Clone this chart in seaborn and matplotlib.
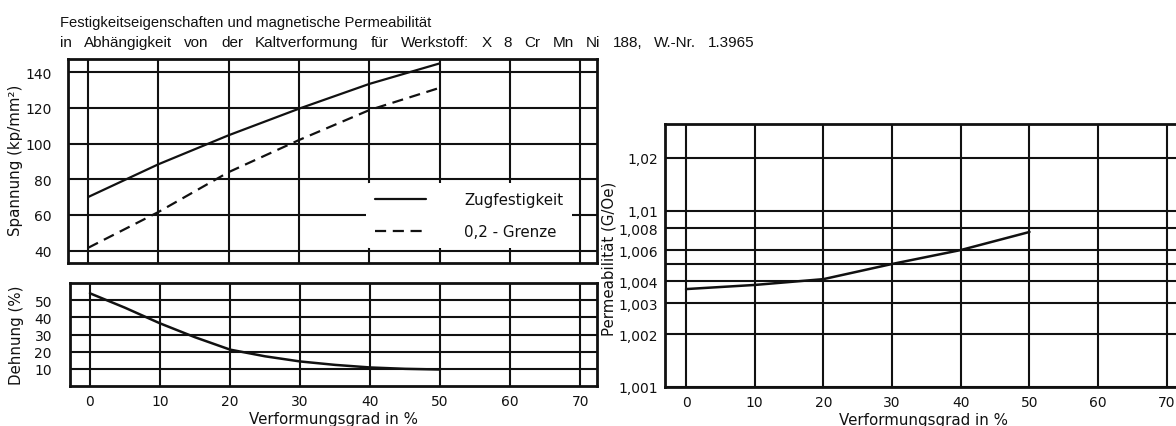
import numpy as np
import pandas as pd
import matplotlib
matplotlib.use("Agg")
import matplotlib.pyplot as plt
import seaborn as sns

# ---------------- data ----------------
verformung = [0, 10, 20, 30, 40, 50]
zugfestigkeit = [70, 88.4, 104.7, 119.6, 133.5, 145]
grenze_02 = [41.5, 61.6, 84, 102, 118.8, 131.3]

verformung_d = [0, 5, 10, 15, 20, 25, 30, 35, 40, 45, 50]
dehnung = [54, 45.6, 36.5, 28.4, 21.2, 17.3, 14.3, 12.3, 10.8, 10.0, 9.6]

verformung_p = [0, 10, 20, 30, 40, 50]
permeabilitaet = [1.0036, 1.0038, 1.0041, 1.0050, 1.0060, 1.0076]

x_ticks = [0, 10, 20, 30, 40, 50, 60, 70]
spannung_ticks = [40, 60, 80, 100, 120, 140]
dehnung_ticks = [10, 20, 30, 40, 50]
perm_ticks = [1.001, 1.002, 1.003, 1.004, 1.005, 1.006, 1.008, 1.01, 1.02]
perm_labels = ["1,001", "1,002", "1,003", "1,004", "", "1,006", "1,008", "1,01", "1,02"]

title1 = "Festigkeitseigenschaften und magnetische Permeabilität"
title2 = "in Abhängigkeit von der Kaltverformung für Werkstoff: X 8 Cr Mn Ni 188, W.-Nr. 1.3965"

# ---------------- style ----------------
sns.set_style("white")
plt.rcParams['font.family'] = ['DejaVu Sans']
TITLE_FONT = ['Liberation Sans', 'DejaVu Sans']
INK = "#111111"
GRID_LW = 1.5
SPINE_LW = 2.0
TICK_FS = 10
LABEL_FS = 10.8

W, H = 1176, 427
fig = plt.figure(figsize=(W / 100, H / 100), dpi=100)
renderer = fig.canvas.get_renderer()


def px_axes(l, t, r, b):
    return fig.add_axes([l / W, 1 - b / H, (r - l) / W, (b - t) / H])


def style_axes(ax, pad_y=9, pad_x=5):
    for s in ax.spines.values():
        s.set_visible(True)
        s.set_linewidth(SPINE_LW)
        s.set_color(INK)
    ax.grid(True, color=INK, lw=GRID_LW)
    ax.set_axisbelow(True)
    ax.tick_params(axis='both', length=0, labelsize=TICK_FS, colors=INK)
    ax.tick_params(axis='y', pad=pad_y)
    ax.tick_params(axis='x', pad=pad_x)


# ---------- upper left: Spannung ----------
ax1 = px_axes(68, 60, 597, 264)
df_s = pd.DataFrame({"v": verformung, "z": zugfestigkeit, "g": grenze_02})
sns.lineplot(data=df_s, x="v", y="z", ax=ax1, color=INK, lw=1.6, label="Zugfestigkeit")
sns.lineplot(data=df_s, x="v", y="g", ax=ax1, color=INK, lw=1.6, linestyle=(0, (5, 3)),
             label="0,2 - Grenze")
ax1.set_xlim(-2.85, 72.4)
ax1.set_ylim(33, 147.5)
ax1.set_xticks(x_ticks)
ax1.set_yticks(spannung_ticks)
ax1.tick_params(labelbottom=False)
style_axes(ax1, pad_y=12)
ax1.set_xlabel("")
ax1.set_ylabel("Spannung (kp/mm²)", fontsize=LABEL_FS, color=INK)
ax1.yaxis.set_label_coords(-0.085, 0.51)
leg = ax1.legend(loc="lower left", bbox_to_anchor=(0.55, 0.035), frameon=True,
                 handlelength=3.4, handletextpad=2.5, labelspacing=1.15,
                 fontsize=LABEL_FS, borderpad=0.6)
leg.get_frame().set_facecolor("white")
leg.get_frame().set_edgecolor("none")
leg.get_frame().set_alpha(1)
for t in leg.get_texts():
    t.set_color(INK)

# ---------- lower left: Dehnung ----------
ax2 = px_axes(70, 284, 597, 387)
df_d = pd.DataFrame({"v": verformung_d, "d": dehnung})
sns.lineplot(data=df_d, x="v", y="d", ax=ax2, color=INK, lw=1.8)
ax2.set_xlim(-2.85, 72.4)
ax2.set_ylim(0, 60)
ax2.set_xticks(x_ticks)
ax2.set_yticks(dehnung_ticks)
style_axes(ax2, pad_y=13, pad_x=6)
ax2.set_xlabel("Verformungsgrad in %", fontsize=LABEL_FS, color=INK, labelpad=2)
ax2.set_ylabel("Dehnung (%)", fontsize=LABEL_FS, color=INK)
ax2.yaxis.set_label_coords(-0.088, 0.5)

# ---------- right: Permeabilität ----------
ax3 = px_axes(665, 125, 1182, 388)
ax3.set_yscale('function', functions=(lambda y: np.log10(np.clip(y - 1, 1e-9, None)),
                                      lambda y: 1 + 10 ** y))
df_p = pd.DataFrame({"v": verformung_p, "p": permeabilitaet})
sns.lineplot(data=df_p, x="v", y="p", ax=ax3, color=INK, lw=1.8)
ax3.set_xlim(-3.06, 72.2)
ax3.set_ylim(1.001, 1.0312)
ax3.set_xticks(x_ticks)
ax3.set_yticks(perm_ticks)
ax3.set_yticklabels(perm_labels)
ax3.yaxis.set_minor_locator(matplotlib.ticker.NullLocator())
style_axes(ax3, pad_y=5, pad_x=6)
ax3.set_xlabel("Verformungsgrad in %", fontsize=LABEL_FS, color=INK, labelpad=2)
ax3.set_ylabel("Permeabilität (G/Oe)", fontsize=LABEL_FS, color=INK)
ax3.yaxis.set_label_coords(-0.093, 0.49)

# ---------- title (two lines, second line with the wide word spacing of the scan) ----------
T_X0 = 60
fig.text(T_X0 / W, 1 - 23 / H, title1, fontsize=10.6, family=TITLE_FONT,
         color=INK, va="center", ha="left")

t2_fs = 11
words = title2.split(" ")
widths = []
for wd in words:
    tt = fig.text(0, 0, wd, fontsize=t2_fs, family=TITLE_FONT)
    widths.append(tt.get_window_extent(renderer=renderer).width)
    tt.remove()
target = 695
gap = (target - sum(widths)) / (len(words) - 1)
x = T_X0
for wd, wdt in zip(words, widths):
    fig.text(x / W, 1 - 43 / H, wd, fontsize=t2_fs, family=TITLE_FONT,
             color=INK, va="center", ha="left")
    x += wdt + gap

fig.savefig("out.png", dpi=100, facecolor="white")
